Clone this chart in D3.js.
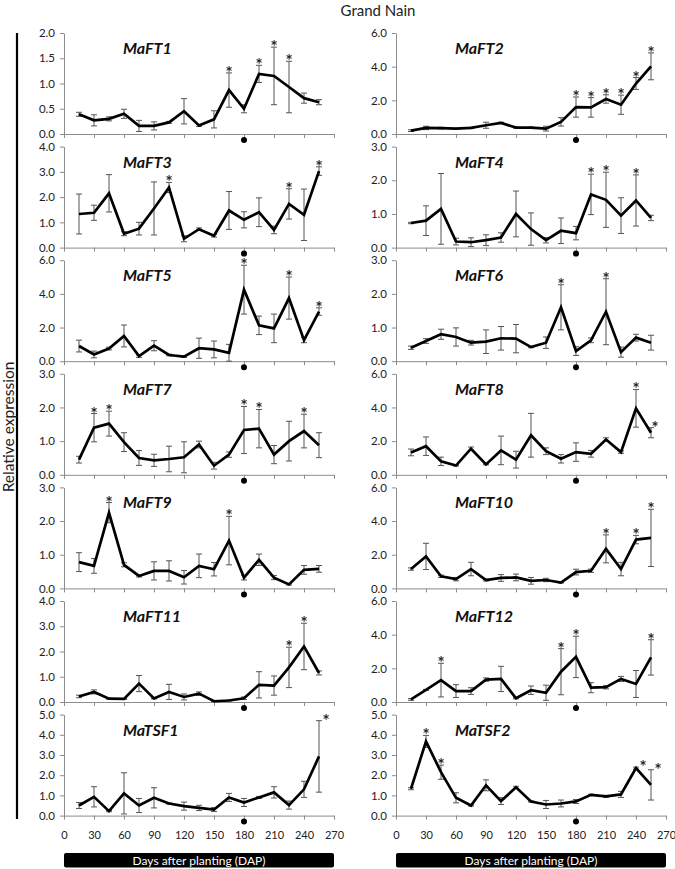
<!DOCTYPE html>
<html><head><meta charset="utf-8">
<script src="https://cdn.jsdelivr.net/npm/d3@7"></script>
<style>body{margin:0;background:#fff} svg{display:block} .stars{filter:grayscale(1)}</style>
</head><body>
<script>
// ---------- data ----------
const days = [15,30,45,60,75,90,105,120,135,150,165,180,195,210,225,240,255];
const xTickValues = [0,30,60,90,120,150,180,210,240,270];
const markDay = 180;
const geneNames = ["MaFT1","MaFT2","MaFT3","MaFT4","MaFT5","MaFT6","MaFT7","MaFT8","MaFT9","MaFT10","MaFT11","MaFT12","MaTSF1","MaTSF2"];
const yMaxes = [2,6,4,3,6,3,3,6,3,6,4,6,5,5];
const ySteps = [0.5,2,1,1,2,1,1,2,1,2,1,2,1,1];

const maFT1 = [0.39,0.27,0.30,0.40,0.16,0.16,0.23,0.45,0.17,0.29,0.87,0.50,1.19,1.15,0.93,0.71,0.63];
const maFT1Err = [0.04,0.11,0.04,0.09,0.11,0.08,0.02,0.25,0.02,0.17,0.34,0.08,0.17,0.57,0.51,0.10,0.05];
const maFT1Stars = [[165,0],[195,0],[210,0],[225,0]];

const maFT2 = [0.20,0.36,0.35,0.32,0.36,0.52,0.66,0.38,0.38,0.32,0.72,1.60,1.58,2.08,1.74,3.00,4.02];
const maFT2Err = [0.05,0.10,0.05,0.02,0.04,0.18,0.04,0.03,0.03,0.14,0.25,0.60,0.58,0.25,0.57,0.35,0.80];
const maFT2Stars = [[180,0],[195,0],[210,0],[225,0],[240,0],[255,0]];

const maFT3 = [1.33,1.38,2.15,0.55,0.75,1.55,2.38,0.35,0.73,0.47,1.47,1.10,1.40,0.70,1.73,1.30,3.03];
const maFT3Err = [0.79,0.30,0.74,0.08,0.25,1.05,0.20,0.12,0.05,0.05,0.75,0.32,0.57,0.15,0.60,1.02,0.17];
const maFT3Stars = [[105,0],[225,0],[255,0]];

const maFT4 = [0.73,0.80,1.15,0.18,0.16,0.22,0.30,1.00,0.55,0.22,0.50,0.43,1.58,1.42,0.95,1.40,0.88];
const maFT4Err = [0.02,0.44,1.05,0.10,0.13,0.16,0.14,0.68,0.48,0.08,0.38,0.20,0.60,0.82,0.53,0.76,0.08];
const maFT4Stars = [[195,0],[210,0],[240,0]];

const maFT5 = [0.90,0.40,0.75,1.50,0.30,0.92,0.37,0.27,0.77,0.70,0.50,4.25,2.13,1.95,3.75,1.25,2.95];
const maFT5Err = [0.35,0.20,0.08,0.65,0.07,0.30,0.05,0.05,0.60,0.50,0.50,1.45,0.55,0.85,1.25,0.15,0.22];
const maFT5Stars = [[180,0],[225,0],[255,0]];

const maFT6 = [0.40,0.60,0.80,0.72,0.55,0.58,0.68,0.67,0.42,0.55,1.60,0.30,0.62,1.47,0.27,0.70,0.55];
const maFT6Err = [0.05,0.07,0.15,0.27,0.07,0.35,0.35,0.42,0.02,0.17,0.67,0.13,0.07,0.98,0.15,0.10,0.22];
const maFT6Stars = [[165,0],[210,0]];

const maFT7 = [0.45,1.40,1.52,0.97,0.50,0.43,0.47,0.52,0.90,0.27,0.60,1.33,1.37,0.60,1.00,1.30,0.88];
const maFT7Err = [0.10,0.42,0.37,0.28,0.22,0.18,0.38,0.46,0.10,0.10,0.08,0.70,0.57,0.27,0.59,0.50,0.37];
const maFT7Stars = [[30,0],[45,0],[180,0],[195,0],[240,0]];

const maFT8 = [1.33,1.70,0.80,0.55,1.55,0.62,1.45,0.90,2.35,1.40,0.95,1.35,1.25,2.10,1.35,3.95,2.50];
const maFT8Err = [0.20,0.55,0.25,0.03,0.10,0.03,0.85,0.50,1.30,0.20,0.25,0.55,0.20,0.10,0.07,1.12,0.30];
const maFT8Stars = [[240,0],[255,4]];

const maFT9 = [0.78,0.67,2.25,0.70,0.37,0.52,0.52,0.33,0.67,0.57,1.42,0.32,0.85,0.32,0.12,0.55,0.58];
const maFT9Err = [0.28,0.22,0.30,0.06,0.03,0.27,0.30,0.20,0.35,0.20,0.72,0.07,0.17,0.06,0.02,0.13,0.10];
const maFT9Stars = [[45,0],[165,0]];

const maFT10 = [1.15,1.90,0.72,0.55,1.15,0.50,0.62,0.65,0.45,0.50,0.35,0.97,1.05,2.35,1.15,2.90,3.00];
const maFT10Err = [0.07,0.78,0.07,0.10,0.40,0.06,0.20,0.20,0.20,0.10,0.03,0.17,0.10,0.83,0.40,0.25,1.70];
const maFT10Stars = [[210,0],[240,0],[255,0]];

const maFT11 = [0.22,0.40,0.13,0.12,0.73,0.14,0.40,0.20,0.33,0.03,0.06,0.15,0.68,0.65,1.37,2.20,1.15];
const maFT11Err = [0.05,0.08,0.02,0.02,0.32,0.02,0.30,0.12,0.07,0.02,0.02,0.05,0.52,0.38,0.80,0.92,0.08];
const maFT11Stars = [[225,0],[240,0]];

const maFT12 = [0.15,0.72,1.30,0.65,0.65,1.33,1.37,0.22,0.70,0.55,1.80,2.68,0.85,0.88,1.37,1.07,2.65];
const maFT12Err = [0.05,0.03,1.00,0.38,0.20,0.10,0.75,0.03,0.25,0.45,1.37,1.23,0.30,0.10,0.15,0.80,1.05];
const maFT12Stars = [[45,0],[165,0],[180,0],[255,0]];

const maTSF1 = [0.50,0.93,0.22,1.10,0.50,0.88,0.60,0.47,0.38,0.30,0.90,0.65,0.90,1.15,0.52,1.30,2.93];
const maTSF1Err = [0.15,0.50,0.03,1.02,0.35,0.50,0.03,0.20,0.13,0.10,0.20,0.20,0.05,0.28,0.20,0.40,1.77];
const maTSF1Stars = [[255,7]];

const maTSF2 = [1.33,3.67,2.15,0.88,0.50,1.50,0.72,1.40,0.70,0.55,0.60,0.70,1.03,0.95,1.05,2.35,1.52];
const maTSF2Err = [0.05,0.30,0.35,0.25,0.03,0.27,0.17,0.05,0.03,0.20,0.17,0.10,0.03,0.05,0.15,0.05,0.75];
const maTSF2Stars = [[30,0],[45,0],[240,7],[255,7]];

const means = [maFT1,maFT2,maFT3,maFT4,maFT5,maFT6,maFT7,maFT8,maFT9,maFT10,maFT11,maFT12,maTSF1,maTSF2];
const errs = [maFT1Err,maFT2Err,maFT3Err,maFT4Err,maFT5Err,maFT6Err,maFT7Err,maFT8Err,maFT9Err,maFT10Err,maFT11Err,maFT12Err,maTSF1Err,maTSF2Err];
const stars = [maFT1Stars,maFT2Stars,maFT3Stars,maFT4Stars,maFT5Stars,maFT6Stars,maFT7Stars,maFT8Stars,maFT9Stars,maFT10Stars,maFT11Stars,maFT12Stars,maTSF1Stars,maTSF2Stars];

// ---------- layout ----------
const W = 675, H = 869;
const FONT = "Lato, 'Open Sans', sans-serif";
const colX = [64, 396];
const rowTop0 = 33, rowPitch = 113.6, panelH = 101;

const svg = d3.select("body").append("svg").attr("width", W).attr("height", H)
  .style("font-family", FONT);

svg.append("text").attr("x", 378).attr("y", 16).attr("text-anchor", "middle")
  .attr("font-size", 15).attr("fill", "#222").text("Grand Nain");

svg.append("line").attr("x1", 17).attr("x2", 17).attr("y1", 33).attr("y2", 819)
  .attr("stroke", "#000").attr("stroke-width", 2.2);

svg.append("text").attr("transform", "translate(14,427) rotate(-90)")
  .attr("text-anchor", "middle").attr("font-size", 15.5).attr("fill", "#222")
  .text("Relative expression");

geneNames.forEach((name, i) => {
  const col = i % 2, row = Math.floor(i / 2);
  const x0 = colX[col];
  const top = rowTop0 + row * rowPitch, bottom = top + panelH;
  const x = d3.scaleLinear().domain([0, 270]).range([x0, x0 + 270]);
  const y = d3.scaleLinear().domain([0, yMaxes[i]]).range([bottom, top]);
  const g = svg.append("g");
  const isLast = row === 6;

  const yTicks = d3.range(0, yMaxes[i] + ySteps[i] / 2, ySteps[i]);
  const ya = g.append("g").attr("transform", `translate(${x0},0)`)
    .call(d3.axisLeft(y).tickValues(yTicks).tickFormat(d3.format(".1f")).tickSize(4).tickSizeOuter(0).tickPadding(5));
  ya.selectAll("text").attr("font-size", 11.5).attr("fill", "#222").style("font-family", FONT);

  const xa = g.append("g").attr("transform", `translate(0,${bottom})`)
    .call(d3.axisBottom(x).tickValues(xTickValues).tickSize(4).tickSizeOuter(0).tickPadding(12)
      .tickFormat(isLast ? d3.format("d") : () => ""));
  xa.selectAll("text").attr("font-size", 11).attr("fill", "#222").style("font-family", FONT);
  [ya, xa].forEach(a => {
    a.select(".domain").attr("stroke", "#8c8c8c");
    a.selectAll(".tick line").attr("stroke", "#8c8c8c");
  });

  // marker dot
  g.append("circle").attr("cx", x(markDay)).attr("cy", bottom + 6).attr("r", 3).attr("fill", "#000");

  const pts = days.map((d, k) => ({ day: d, v: means[i][k], e: errs[i][k] }));

  // error bars
  const eb = g.append("g").attr("stroke", "#555").attr("stroke-width", 1);
  pts.forEach(p => {
    const yt = y(p.v + p.e), yb = y(Math.max(0, p.v - p.e)), cx = x(p.day);
    eb.append("line").attr("x1", cx).attr("x2", cx).attr("y1", yt).attr("y2", yb);
    eb.append("line").attr("x1", cx - 3).attr("x2", cx + 3).attr("y1", yt).attr("y2", yt);
    eb.append("line").attr("x1", cx - 3).attr("x2", cx + 3).attr("y1", yb).attr("y2", yb);
  });

  // line
  g.append("path").datum(pts)
    .attr("d", d3.line().x(p => x(p.day)).y(p => y(p.v)))
    .attr("fill", "none").attr("stroke", "#000").attr("stroke-width", 2.7)
    .attr("stroke-linejoin", "miter");

  // stars
  const sg = g.append("g").attr("class", "stars");
  stars[i].forEach(([d, shift]) => {
    const k = days.indexOf(d);
    const p = pts[k];
    sg.append("text").attr("x", x(d + shift)).attr("y", y(p.v + p.e) + 6)
      .attr("text-anchor", "middle").attr("font-size", 17).attr("font-weight", "bold")
      .attr("fill", "#222").text("*");
  });

  // gene label
  g.append("text").attr("x", x0 + 59).attr("y", top + 21)
    .attr("font-size", 16).attr("font-weight", "bold").attr("font-style", "italic")
    .attr("fill", "#111").text(name);

  // bottom bar
  if (isLast) {
    g.append("rect").attr("x", x(0)).attr("y", 853).attr("width", x(270) - x(0)).attr("height", 14.5)
      .attr("rx", 2).attr("fill", "#000");
    g.append("text").attr("x", (x(0) + x(270)) / 2).attr("y", 864.5).attr("text-anchor", "middle")
      .attr("font-size", 12).attr("fill", "#fff").text("Days after planting (DAP)");
  }
});
</script>
</body></html>
